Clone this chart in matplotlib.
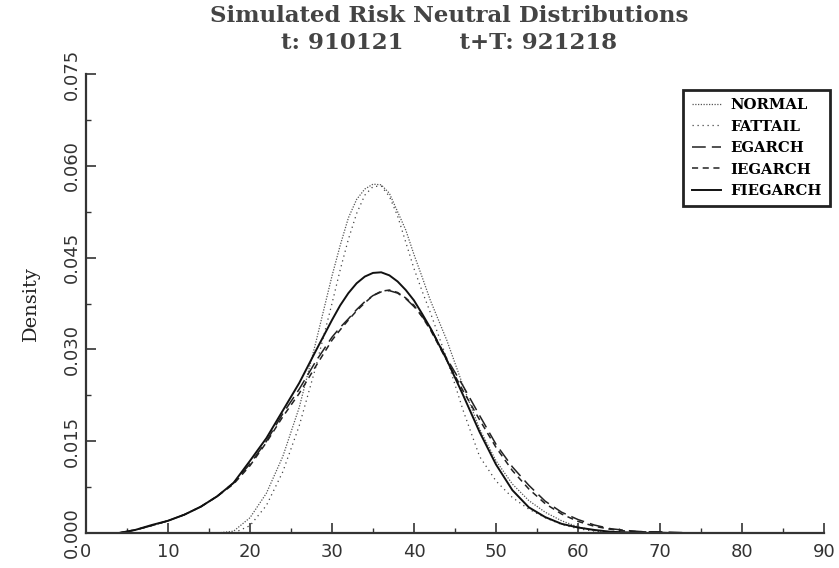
import matplotlib
matplotlib.use("Agg")
import matplotlib.pyplot as plt
from matplotlib.ticker import MultipleLocator

# Price grid (x) and simulated risk-neutral densities for each model
x_grid = [4, 6, 8, 10, 12, 14, 16, 18, 20, 22, 24, 26, 28,
          30, 31, 32, 33, 34, 35, 36, 37, 38, 39, 40, 41, 42,
          44, 46, 48, 50, 52, 54, 56, 58, 60, 62, 64, 66, 68, 70, 72, 74]

normal = [0, 0, 0, 0, 0, 0, 0, 0.0003, 0.0025, 0.0065, 0.0125, 0.0205, 0.0310,
          0.0420, 0.0470, 0.0515, 0.0545, 0.0562, 0.0570, 0.0569, 0.0555, 0.0525,
          0.0495, 0.0455, 0.0418, 0.0380,
          0.0315, 0.0240, 0.0170, 0.0118, 0.0080, 0.0053, 0.0034, 0.0020, 0.0010,
          0.0004, 0.0001, 0, 0, 0, 0, 0]

fattail = [0, 0, 0, 0, 0, 0, 0, 0, 0.0012, 0.0045, 0.0100, 0.0175, 0.0270,
           0.0375, 0.0430, 0.0480, 0.0522, 0.0552, 0.0566, 0.0567, 0.0550, 0.0518,
           0.0475, 0.0432, 0.0395, 0.0360,
           0.0285, 0.0200, 0.0125, 0.0085, 0.0058, 0.0039, 0.0025, 0.0014, 0.0007,
           0.0003, 0.0001, 0, 0, 0, 0, 0]

egarch = [0, 0.0005, 0.0012, 0.0020, 0.0030, 0.0043, 0.0060, 0.0082, 0.0113,
          0.0150, 0.0195, 0.0235, 0.0280,
          0.0320, 0.0336, 0.0350, 0.0365, 0.0378, 0.0388, 0.0394, 0.0396, 0.0392,
          0.0383, 0.0370, 0.0354, 0.0335,
          0.0285, 0.0240, 0.0192, 0.0145, 0.0108, 0.0078, 0.0052, 0.0034, 0.0022,
          0.0013, 0.0007, 0.0004, 0.0002, 0.0002, 0.0001, 0]

iegarch = [0, 0.0005, 0.0012, 0.0020, 0.0030, 0.0043, 0.0060, 0.0080, 0.0110,
           0.0148, 0.0190, 0.0228, 0.0272,
           0.0315, 0.0332, 0.0348, 0.0363, 0.0376, 0.0388, 0.0395, 0.0397, 0.0393,
           0.0384, 0.0372, 0.0353, 0.0332,
           0.0282, 0.0232, 0.0185, 0.0140, 0.0102, 0.0072, 0.0048, 0.0031, 0.0019,
           0.0011, 0.0006, 0.0003, 0.0002, 0.0001, 0, 0]

fiegarch = [0, 0.0005, 0.0013, 0.0020, 0.0030, 0.0043, 0.0060, 0.0082, 0.0118,
            0.0155, 0.0200, 0.0245, 0.0297,
            0.0348, 0.0372, 0.0392, 0.0408, 0.0419, 0.0425, 0.0426, 0.0421, 0.0411,
            0.0397, 0.0380, 0.0358, 0.0335,
            0.0283, 0.0225, 0.0165, 0.0112, 0.0070, 0.0042, 0.0026, 0.0015, 0.0009,
            0.0005, 0.0002, 0.0001, 0, 0, 0, 0]

x_ticks = [0, 10, 20, 30, 40, 50, 60, 70, 80, 90]
y_ticks = [0.000, 0.015, 0.030, 0.045, 0.060, 0.075]
y_tick_labels = ["0.000", "0.015", "0.030", "0.045", "0.060", "0.075"]

serif = ["DejaVu Serif"]

fig = plt.figure(figsize=(8.39, 5.68), dpi=100)
ax = fig.add_axes([0.1025, 0.0616, 0.8796, 0.8081])

ax.plot(x_grid, normal, color="#555555", lw=0.9, linestyle=(0, (1, 1.2)), label="NORMAL")
ax.plot(x_grid, fattail, color="#444444", lw=0.9, linestyle=(0, (1, 3)), label="FATTAIL")
ax.plot(x_grid, egarch, color="#222222", lw=1.1, linestyle=(0, (9, 4)), label="EGARCH")
ax.plot(x_grid, iegarch, color="#222222", lw=1.1, linestyle=(0, (4, 3)), label="IEGARCH")
ax.plot(x_grid, fiegarch, color="#111111", lw=1.4, linestyle="-", label="FIEGARCH")

ax.set_xlim(0, 90)
ax.set_ylim(0, 0.075)
ax.spines["top"].set_visible(False)
ax.spines["right"].set_visible(False)
for s in ("left", "bottom"):
    ax.spines[s].set_linewidth(1.6)
    ax.spines[s].set_color("#333333")

ax.set_xticks(x_ticks)
ax.xaxis.set_minor_locator(MultipleLocator(5))
ax.set_yticks(y_ticks)
ax.set_yticklabels(y_tick_labels, rotation=90, va="center")
ax.yaxis.set_minor_locator(MultipleLocator(0.0075))
ax.tick_params(which="major", direction="in", length=7, width=1.2, color="#333333",
               labelsize=13, labelcolor="#333333")
ax.tick_params(which="minor", direction="in", length=3.5, width=1.0, color="#333333")
ax.tick_params(axis="x", pad=7)
ax.tick_params(axis="y", pad=4)

ax.set_ylabel("Density", fontfamily=serif, fontsize=14, labelpad=16, color="#222222")

fig.text(0.535, 0.972, "Simulated Risk Neutral Distributions", ha="center", va="center",
         fontfamily=serif, fontsize=16.5, fontweight="bold", color="#444444")
fig.text(0.535, 0.925, "t: 910121       t+T: 921218", ha="center", va="center",
         fontfamily=serif, fontsize=16.5, fontweight="bold", color="#444444")

leg = ax.legend(loc="upper right", bbox_to_anchor=(1.008, 0.965), borderaxespad=0,
                prop={"family": serif, "weight": "bold", "size": 10.7},
                handlelength=2.0, handletextpad=0.6, labelspacing=0.5,
                fancybox=False, framealpha=1, edgecolor="#222222", borderpad=0.55)
leg.get_frame().set_linewidth(2)

fig.savefig("out.png", dpi=100)
